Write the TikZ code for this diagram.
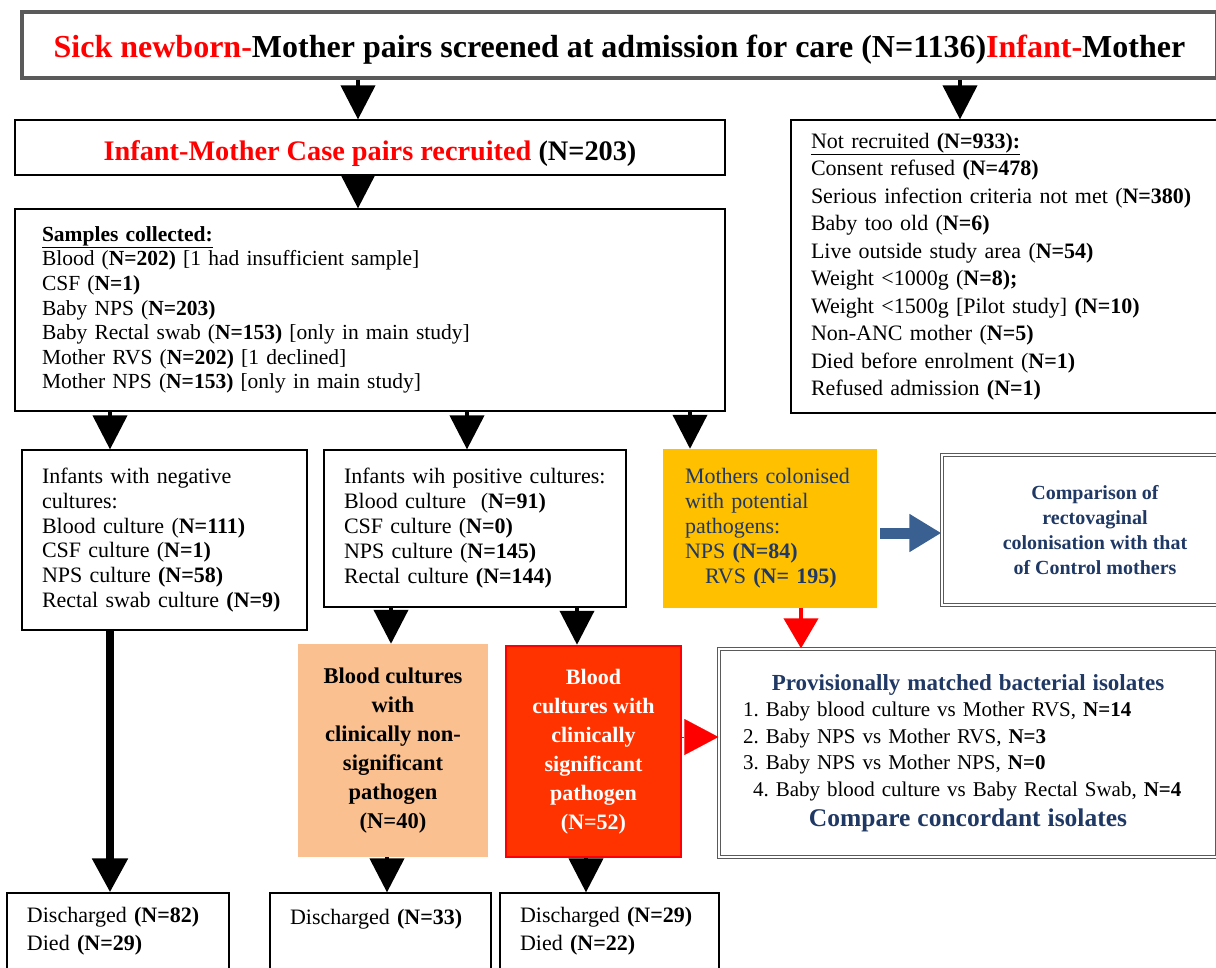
\documentclass[tikz,border=0pt]{standalone}
\usepackage{fontspec}
\setmainfont{Liberation Serif}
\usetikzlibrary{arrows.meta}
\definecolor{dblue}{HTML}{1F3864}
\definecolor{arrblue}{HTML}{3A6092}
\definecolor{gold}{HTML}{FFC000}
\definecolor{peach}{HTML}{FAC090}
\definecolor{redfill}{HTML}{FF3300}
\definecolor{bordergray}{HTML}{5A5A5A}
\newcommand\bN[1]{\textbf{#1}}
\newcommand\oneline[1]{\mbox{#1}}
\begin{document}
\frenchspacing
\begin{tikzpicture}[x=1pt,y=-1pt,
  box/.style={draw=black, line width=1.2pt, inner ysep=0pt},
  lbox/.style={box, align=left},
  dbox/.style={draw=bordergray, double=white, double distance=2.2pt, line width=1.3pt, inner sep=0pt},
  blk/.style={-{Triangle[width=34pt,length=34pt]}, line width=4pt, black},
  redarr/.style={-{Triangle[width=34pt,length=30pt]}, line width=4pt, red},
  bluearr/.style={-{Triangle[width=36pt,length=32pt]}, line width=11pt, arrblue},
]
\useasboundingbox (0,0) rectangle (1216,967);

% top
\node[draw=bordergray, line width=3.5pt, minimum width=1195pt, minimum height=66pt, inner sep=0pt,
  text height=28pt, text depth=4pt,
  font=\fontsize{32}{34}\selectfont\bfseries] (top) at (619.5,45)
  {\textcolor{red}{Sick newborn-}Mother pairs screened at admission for care (N=1136)\textcolor{red}{Infant-}Mother};

% recruited
\node[box, minimum width=710pt, minimum height=55pt, inner xsep=0pt,
  text height=27pt, text depth=2pt,
  font=\fontsize{28.3}{30}\selectfont\bfseries] (rec) at (370,147.5)
  {\textcolor{red}{Infant-Mother Case pairs recruited} (N=203)};

% samples
\node[lbox, inner xsep=27pt, text width=656pt, minimum height=202pt,
  font=\fontsize{21.5}{24.6}\selectfont] (samp) at (370,310)
  {\underline{\textbf{Samples collected:}}\\
   Blood (\bN{N=202)} [1 had insufficient sample]\\
   CSF (\bN{N=1)}\\
   Baby NPS (\bN{N=203)}\\
   Baby Rectal swab (\bN{N=153)} [only in main study]\\
   Mother RVS (\bN{N=202)} [1 declined]\\
   Mother NPS (\bN{N=153)} [only in main study]};

% not recruited
\node[lbox, inner xsep=20pt, text width=420pt, minimum height=293pt,
  font=\fontsize{22}{27.5}\selectfont] (notrec) at (1021,266.5)
  {\underline{Not recruited \bN{(N=933):}}\\
   Consent refused \bN{(N=478)}\\
   Serious infection criteria not met (\bN{N=380)}\\
   Baby too old (\bN{N=6)}\\
   Live outside study area (\bN{N=54)}\\
   Weight <1000g (\bN{N=8);}\\
   Weight <1500g [Pilot study] \bN{(N=10)}\\
   Non-ANC mother (\bN{N=5)}\\
   Died before enrolment (\bN{N=1)}\\
   Refused admission \bN{(N=1)}};

% negative
\node[lbox, inner xsep=20pt, text width=245pt, minimum height=180pt,
  font=\fontsize{22}{24.8}\selectfont] (neg) at (164.5,540)
  {\oneline{Infants with negative}\\
   \oneline{cultures:}\\
   \oneline{Blood culture (\bN{N=111)}}\\
   \oneline{CSF culture (\bN{N=1)}}\\
   \oneline{NPS culture \bN{(N=58)}}\\
   \oneline{Rectal swab culture \bN{(N=9)}}};

% positive
\node[lbox, inner xsep=20pt, text width=262pt, minimum height=157pt,
  font=\fontsize{22}{25}\selectfont] (pos) at (475,528.5)
  {\oneline{Infants wih positive cultures:}\\
   \oneline{Blood culture~ (\bN{N=91)}}\\
   \oneline{CSF culture (\bN{N=0)}}\\
   \oneline{NPS culture (\bN{N=145)}}\\
   \oneline{Rectal culture \bN{(N=144)}}};

% mothers colonised
\node[fill=gold, align=left, inner xsep=22pt, inner ysep=0pt, text width=170pt, minimum height=159pt,
  text=dblue, font=\fontsize{22}{25}\selectfont] (moth) at (770,528.5)
  {\oneline{Mothers colonised}\\
   \oneline{with potential}\\
   \oneline{pathogens:}\\
   \oneline{NPS \bN{(N=84)}}\\
   \oneline{\hspace*{20pt}RVS \bN{(N= 195)}}};

% comparison
\node[dbox, minimum width=306pt, minimum height=150pt, align=center,
  text=dblue, font=\fontsize{20}{24.7}\selectfont\bfseries] (comp) at (1095,530)
  {Comparison of\\ rectovaginal\\ colonisation with that\\ of Control mothers};

% provisionally matched
\node[dbox, minimum width=498pt, minimum height=208pt, align=left, text width=450pt,
  font=\fontsize{21}{26.5}\selectfont] (prov) at (968,753)
  {\makebox[\linewidth][c]{\textcolor{dblue}{\fontsize{23}{26}\selectfont\bfseries Provisionally matched bacterial isolates}}\\
   1. Baby blood culture vs Mother RVS, \bN{N=14}\\
   2. Baby NPS vs Mother RVS, \bN{N=3}\\
   3. Baby NPS vs Mother NPS, \bN{N=0}\\
   \hspace*{10pt}4. Baby blood culture vs Baby Rectal Swab, \bN{N=4}\\[4pt]
   \makebox[\linewidth][c]{\textcolor{dblue}{\fontsize{25.5}{27}\selectfont\bfseries Compare concordant isolates}}};

% peach
\node[fill=peach, minimum width=190pt, minimum height=213pt, inner sep=0pt, align=center,
  font=\fontsize{22.5}{29}\selectfont\bfseries] (peachb) at (393,750.5)
  {Blood cultures\\ with\\ clinically non-\\ significant\\ pathogen\\ (N=40)};

% red
\node[fill=redfill, draw=red, line width=2.5pt, minimum width=175pt, minimum height=211pt, inner sep=0pt, align=center,
  text=white, font=\fontsize{22}{29}\selectfont\bfseries] (redb) at (593.5,751.5)
  {Blood\\ cultures with\\ clinically\\ significant\\ pathogen\\ (N=52)};

% bottom boxes
\node[lbox, inner xsep=20pt, text width=182pt, minimum height=76pt,
  font=\fontsize{22}{28}\selectfont] (outA) at (118,931)
  {Discharged \bN{(N=82)}\\ Died \bN{(N=29)}};
\node[lbox, inner xsep=20pt, text width=181pt, minimum height=76pt,
  font=\fontsize{22}{28}\selectfont] (outB) at (380.5,931)
  {Discharged \bN{(N=33)}\\ \mbox{}};
\node[lbox, inner xsep=20pt, text width=179pt, minimum height=76pt,
  font=\fontsize{22}{28}\selectfont] (outC) at (609.5,931)
  {Discharged \bN{(N=29)}\\ Died \bN{(N=22)}};

% connectors
\draw[blk] (top.south -| 358,0) -- (rec.north -| 358,0);
\draw[blk] (top.south -| 960,0) -- (notrec.north -| 960,0);
\draw[blk] (rec.south -| 358,0) -- (samp.north -| 358,0);
\draw[blk] (samp.south -| 110,0) -- (neg.north -| 110,0);
\draw[blk] (samp.south -| 467,0) -- (pos.north -| 467,0);
\draw[blk] (samp.south -| 690,0) -- (moth.north -| 690,0);
\draw[bluearr] ([xshift=3pt]moth.east |- 0,533) -- (comp.west |- 0,533);
\draw[redarr] (moth.south -| 801,0) -- (prov.north -| 801,0);
\draw[blk] (pos.south -| 391,0) -- (peachb.north -| 391,0);
\draw[blk] (pos.south -| 577,0) -- (redb.north -| 577,0);
\draw[red, -{Triangle[width=36pt,length=34pt]}, line width=0.1pt] (redb.east |- 0,737) -- (prov.west |- 0,737);
\draw[-{Triangle[width=34pt,length=34pt]}, line width=8pt] (neg.south -| 110,0) -- (outA.north -| 110,0);
\draw[blk] (peachb.south -| 387,0) -- (outB.north -| 387,0);
\draw[blk] (redb.south -| 586,0) -- (outC.north -| 586,0);
\end{tikzpicture}
\end{document}
